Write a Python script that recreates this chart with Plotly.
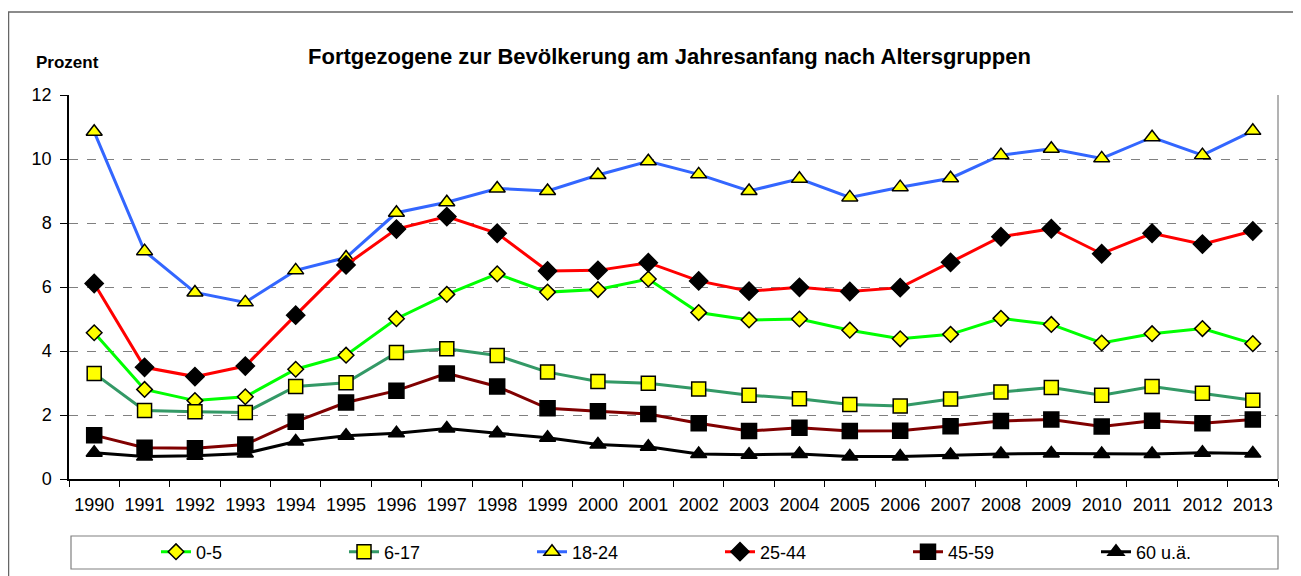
import plotly.graph_objects as go

years = [str(y) for y in range(1990, 2014)]

age_0_5 = [4.57, 2.8, 2.45, 2.57, 3.43, 3.87, 5.01, 5.77, 6.41, 5.84, 5.92, 6.25,
           5.2, 4.97, 5.0, 4.65, 4.38, 4.52, 5.02, 4.83, 4.25, 4.54, 4.7, 4.23]
age_6_17 = [3.3, 2.14, 2.1, 2.08, 2.89, 3.01, 3.95, 4.07, 3.86, 3.34, 3.05, 2.99,
            2.81, 2.62, 2.51, 2.33, 2.28, 2.5, 2.72, 2.86, 2.62, 2.89, 2.68, 2.46]
age_18_24 = [10.85, 7.12, 5.83, 5.52, 6.52, 6.92, 8.32, 8.65, 9.08, 9.0, 9.5, 9.93,
             9.52, 9.0, 9.38, 8.8, 9.12, 9.4, 10.12, 10.32, 10.02, 10.68, 10.12, 10.88]
age_25_44 = [6.11, 3.49, 3.2, 3.53, 5.12, 6.69, 7.81, 8.2, 7.68, 6.5, 6.52, 6.76,
             6.19, 5.87, 5.99, 5.86, 5.98, 6.77, 7.57, 7.82, 7.04, 7.68, 7.34, 7.75]
age_45_59 = [1.37, 0.98, 0.96, 1.08, 1.79, 2.39, 2.76, 3.3, 2.89, 2.21, 2.12, 2.03,
             1.74, 1.5, 1.6, 1.5, 1.51, 1.65, 1.81, 1.86, 1.64, 1.82, 1.74, 1.86]
age_60 = [0.82, 0.7, 0.73, 0.8, 1.17, 1.35, 1.43, 1.58, 1.43, 1.29, 1.08, 1.01,
          0.78, 0.76, 0.78, 0.7, 0.7, 0.75, 0.78, 0.8, 0.78, 0.78, 0.82, 0.8]

series_names = ["0-5", "6-17", "18-24", "25-44", "45-59", "60 u.ä."]
series_values = [age_0_5, age_6_17, age_18_24, age_25_44, age_45_59, age_60]
line_colors = ["#00FF00", "#339966", "#3366FF", "#FF0000", "#800000", "#000000"]
marker_symbols = ["diamond", "square", "triangle-up", "diamond", "square", "triangle-up"]
marker_fills = ["#FFFF00", "#FFFF00", "#FFFF00", "#000000", "#000000", "#000000"]
marker_sizes = [12, 14, 14, 14, 15, 14]

title_text = "Fortgezogene zur Bevölkerung am Jahresanfang nach Altersgruppen"
y_label = "Prozent"

FONT = "Liberation Sans, Arial, sans-serif"

fig = go.Figure()
for name, vals, col, sym, fill, sz in zip(series_names, series_values, line_colors,
                                          marker_symbols, marker_fills, marker_sizes):
    fig.add_trace(go.Scatter(
        x=years, y=vals, name=name, mode="lines+markers",
        line=dict(color=col, width=3),
        marker=dict(symbol=sym, size=sz, color=fill, line=dict(color="#000000", width=1.5)),
    ))

# the page adds an 8px body margin; work in page pixels and convert
OFF = 8
W, H = 1301 - OFF, 576 - OFF
PL, PR, PT, PB = 69, 1278, 95, 479   # plot area in page pixels
L = PL - OFF
R = W - (PR - OFF)
T = PT - OFF
B = H - (PB - OFF)
pw = PR - PL
ph = PB - PT

def px_x(p):
    return (p - PL) / pw

def px_y(p):
    return (PB - p) / ph

shapes = [
    # outer chart border
    dict(type="rect", xref="paper", yref="paper",
         x0=px_x(8.5), x1=px_x(1320), y0=px_y(12), y1=px_y(600),
         line=dict(color="#666666", width=1.5), layer="below"),
    # right plot border
    dict(type="line", xref="paper", yref="paper", x0=1, x1=1, y0=0, y1=1,
         line=dict(color="#808080", width=1.2)),
    # legend box
    dict(type="rect", xref="paper", yref="paper",
         x0=px_x(71), x1=px_x(1278), y0=px_y(536), y1=px_y(569),
         line=dict(color="#808080", width=1.2)),
]

annotations = [
    dict(text=title_text, xref="paper", yref="paper", x=px_x(669), y=px_y(56),
         xanchor="center", yanchor="middle", showarrow=False,
         font=dict(family=FONT, size=22, color="#000000", weight="bold")),
    dict(text=y_label, xref="paper", yref="paper", x=px_x(34), y=px_y(62),
         xanchor="left", yanchor="middle", showarrow=False,
         font=dict(family=FONT, size=17, color="#000000", weight="bold")),
]

fig.update_layout(
    width=W, height=H,
    margin=dict(l=L, r=R, t=T, b=B, pad=0, autoexpand=False),
    paper_bgcolor="#FFFFFF", plot_bgcolor="#FFFFFF",
    font=dict(family=FONT, size=16, color="#000000"),
    showlegend=True,
    legend=dict(orientation="h", x=px_x(156), y=px_y(552), xanchor="left", yanchor="middle",
                entrywidth=143, entrywidthmode="pixels", bgcolor="rgba(0,0,0,0)",
                font=dict(family=FONT, size=18), itemsizing="trace", tracegroupgap=0),
    shapes=shapes,
    annotations=annotations,
    xaxis=dict(type="category", tickson="boundaries", ticks="outside", ticklen=6,
               tickcolor="#000000", showline=True, linecolor="#000000", linewidth=1.5,
               showgrid=False, tickfont=dict(size=18), range=[-0.5, 23.5],
               ticklabelstandoff=9),
    yaxis=dict(range=[0, 12], dtick=2, ticks="outside", ticklen=7, tickcolor="#000000",
               showline=True, linecolor="#000000", linewidth=1.5,
               showgrid=True, gridcolor="#808080", griddash="dash", gridwidth=1,
               zeroline=False, tickfont=dict(size=18), ticklabelstandoff=5),
)

fig.write_html("out.html")
